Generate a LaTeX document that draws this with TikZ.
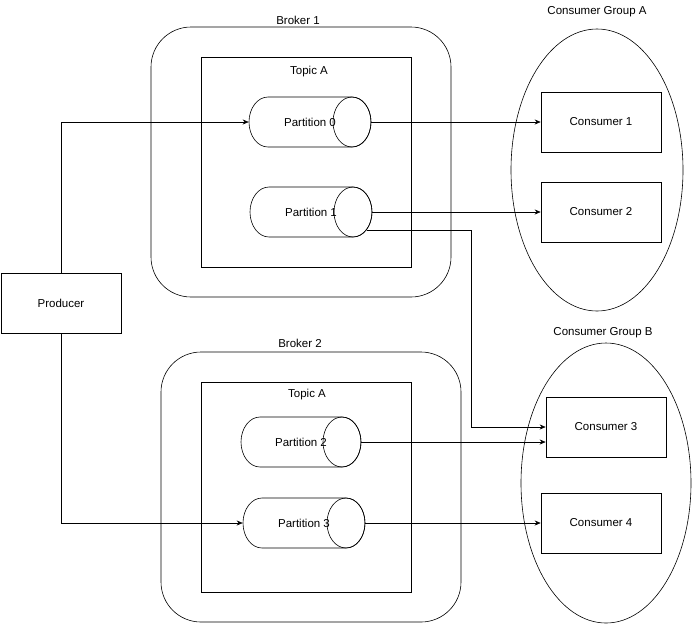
\documentclass[tikz,border=0pt]{standalone}
\usepackage{fontspec}
\setmainfont{Liberation Sans}
\usetikzlibrary{shapes.geometric,arrows.meta}
\newcommand\mycyl[5]{% L R yc name text
  \draw[fill=white] ({#1+19},{-#3+25}) -- ({#2-19},{-#3+25}) arc(90:-90:19 and 25) -- ({#1+19},{-#3-25}) arc(270:90:19 and 25) -- cycle;
  \draw ({#2-19},{-#3}) ellipse (19 and 25);
  \node[inner sep=0,minimum width={#2-#1},minimum height=50] (#4) at ({(#1+#2)/2},{-#3}) {};
  \node[txt] at ({(#1+#2)/2},{-#3}) {#5};}
\begin{document}
\begin{tikzpicture}[x=1pt,y=1pt,
  txt/.style={font=\fontsize{11.5}{13}\selectfont,inner sep=0},
  box/.style={draw,minimum width=120,minimum height=60,font=\fontsize{11.5}{13}\selectfont},
  arr/.style={-{Stealth[length=6,width=5]}},line width=0.6pt]
\useasboundingbox (0,0) rectangle (693,-625);
% Broker 1
\draw[rounded corners=40] (151,-27) rectangle (451,-297);
\node[txt] at (298,-20) {Broker 1};
\draw (201,-57) rectangle (411,-267);
\node[txt] at (309,-72) {Topic A};
\mycyl{249}{371}{122}{p0}{Partition 0}
\mycyl{250}{372}{212}{p1}{Partition 1}
% Group A
\draw (597,-170) ellipse (86 and 141);
\node[txt] at (597,-12) {Consumer Group A};
\node[box] (c1) at (601,-122) {Consumer 1};
\node[box] (c2) at (601,-212) {Consumer 2};
% Producer
\node[box] (pr) at (61,-303) {Producer};
% Broker 2
\draw[rounded corners=40] (161,-352) rectangle (461,-622);
\node[txt] at (300,-343) {Broker 2};
\draw (201,-382) rectangle (411,-592);
\node[txt] at (307,-395) {Topic A};
\mycyl{241}{361}{442}{p2}{Partition 2}
\mycyl{243}{365}{523}{p3}{Partition 3}
% Group B
\draw (606,-483) ellipse (85 and 140);
\node[txt] at (603,-333) {Consumer Group B};
\node[box] (c3) at (606,-427) {Consumer 3};
\node[box] (c4) at (601,-523) {Consumer 4};
% arrows
\draw[arr] (pr.north) |- (p0.west);
\draw[arr] (pr.south) |- (p3.west);
\draw[arr] (p0.east) -- (c1.west);
\draw[arr] (p1.east) -- (c2.west);
\coordinate (k) at (367,-230);
\draw[arr] (k) -- (471,-230) |- (c3.west);
\draw[arr] (p2.east) -- (c3.west |- p2.east);
\draw[arr] (p3.east) -- (c4.west);
\end{tikzpicture}
\end{document}
